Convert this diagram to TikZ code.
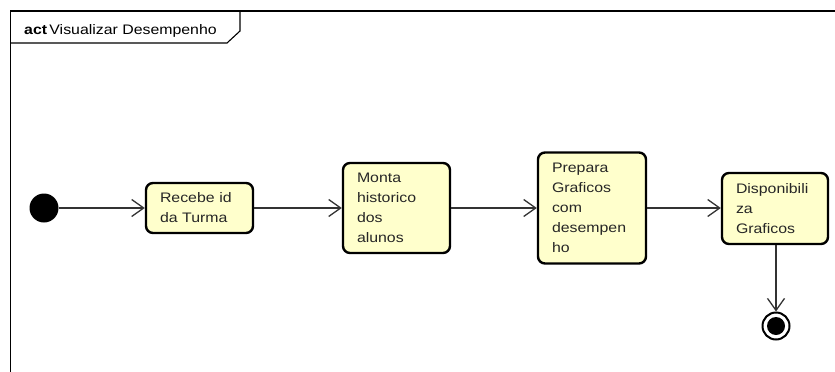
\documentclass[tikz,border=0pt]{standalone}
\usepackage{fontspec}
\setmainfont[FakeStretch=1.15]{Liberation Sans}
\usetikzlibrary{arrows.meta}
\definecolor{actfill}{HTML}{FFFFCC}
\definecolor{edgegray}{HTML}{333333}
\tikzset{
  action/.style={draw=black, line width=2.4pt, fill=actfill, rounded corners=7pt,
    rectangle, align=left, inner xsep=14pt, inner ysep=0pt,
    font=\fontsize{13.8}{20}\selectfont, text=black!85},
  flow/.style={draw=edgegray, line width=1.3pt,
    -{Straight Barb[length=12pt,width=17pt,line width=1.3pt]}},
  framestyle/.style={draw=black, line width=1.1pt}
}
\begin{document}
\begin{tikzpicture}[x=1pt, y=-1pt]
  \useasboundingbox (0,0) rectangle (835,372);
  % diagram frame with its name tab
  \draw[framestyle] (10.5,372) -- (10.5,11) -- (835,11);
  \draw[framestyle] (10.5,43) -- (227,43) -- (240,31) -- (240,11);
  \node[anchor=base west, inner sep=0pt, font=\fontsize{13.8}{16}\selectfont] (title)
    at (24,34) {\textbf{act}\,Visualizar Desempenho};

  % initial node
  \node[circle, fill=black, minimum size=29pt, inner sep=0pt] (start) at (44,208) {};

  % actions (centre, width 107 or 108, height to fit)
  \node[action, minimum width=107pt, text width=79pt, minimum height=50pt] (a1)
    at (199.5,208) {Recebe id\\da Turma};
  \node[action, minimum width=107pt, text width=79pt, minimum height=90pt] (a2)
    at (396.5,208) {Monta\\historico\\dos\\alunos};
  \node[action, minimum width=108pt, text width=80pt, minimum height=111pt] (a3)
    at (592,208) {Prepara\\Graficos\\com\\desempen\\ho};
  \node[action, minimum width=106pt, text width=78pt, minimum height=71pt] (a4)
    at (775,208.5) {Disponibili\\za\\Graficos};

  % final node
  \node[circle, draw=black, line width=2pt, fill=white, minimum size=27pt, inner sep=0pt] (end) at (776,326) {};
  \node[circle, fill=black, minimum size=18pt, inner sep=0pt] (endcore) at (end.center) {};

  % control flows
  \draw[flow] (start) -- (a1.west);
  \draw[flow] (a1.east) -- (a2.west);
  \draw[flow] (a2.east) -- (a3.west);
  \draw[flow] (a3.east) -- (a3.east -| a4.west);
  \draw[flow] (a4.south -| end) -- (end.north);
\end{tikzpicture}
\end{document}
